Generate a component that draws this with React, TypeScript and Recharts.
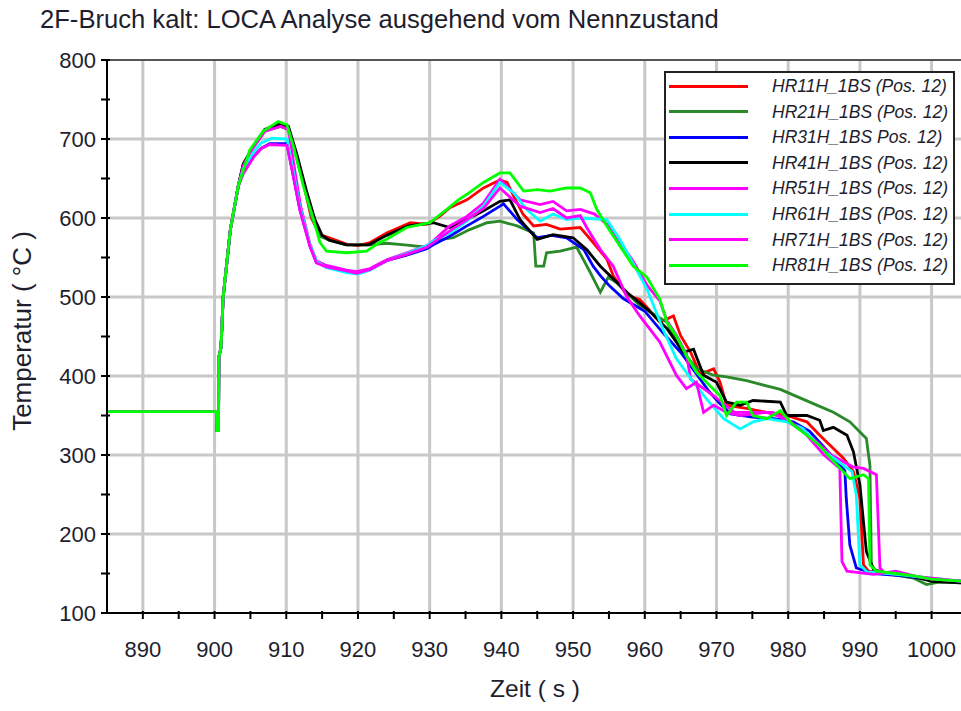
import React from "react";
import { LineChart, Line, XAxis, YAxis, ReferenceLine } from "recharts";

// Common start of every channel: steady state, then the break at ~900 s
const startup: [number, number][] = [
  [885, 355], [900.3, 355], [900.35, 331], [900.55, 331], [900.6, 424],
  [900.9, 436], [901.2, 500], [902.2, 585], [903.3, 640],
];

const hr11: [number, number][] = [
  [904, 668], [905.5, 692], [907, 710], [909.2, 718], [910.3, 714], [911.2, 685], [912.5, 640], [913.5, 600],
  [914.7, 579], [916, 575], [918.4, 567], [920, 565], [921.7, 569], [924, 581], [927.3, 594], [929.6, 592],
  [931.4, 602], [932.8, 613], [935.2, 623], [937.5, 638], [939.8, 648], [940.8, 645], [941.7, 628], [943, 605],
  [944.5, 590], [946.3, 592], [948.2, 586], [951, 588], [952.8, 569], [954.7, 548], [955.6, 527], [957.5, 502],
  [959.3, 497], [960.5, 485], [962.1, 468], [964, 476], [965, 451], [966.4, 430], [967.8, 401], [968.5, 405],
  [969.6, 409], [970.5, 392], [971.4, 363], [974.2, 359], [977, 354], [979.8, 350], [982.6, 342], [984.4, 325],
  [987.7, 296], [989.1, 279], [990, 245], [990.5, 161], [991.2, 153], [993, 150], [997, 147], [1000, 142], [1004.5, 139],
];

const hr21: [number, number][] = [
  [904, 668], [905.5, 692], [907, 710], [909.2, 716], [910.3, 712], [911.2, 685], [912.5, 640], [913.6, 600],
  [914.7, 577], [916, 572], [918.4, 566], [921.5, 566], [924, 568], [926.5, 566], [929.6, 563], [931, 572],
  [933.3, 575], [935.5, 585], [938, 594], [939.8, 596], [942.2, 590], [944.5, 581], [944.8, 539], [945.9, 539],
  [946.3, 556], [948.2, 558], [950.5, 563], [951.4, 548], [952.4, 531], [953.8, 506], [954.9, 525], [956.1, 518],
  [959.3, 489], [963.1, 468], [965, 434], [967.3, 409], [969.6, 401], [971.4, 399], [974.2, 394], [978.9, 383],
  [983.5, 365], [986.3, 354], [988.6, 342], [990.9, 321], [991.4, 287], [991.6, 161], [992.3, 153], [995, 148],
  [997.5, 144], [999.3, 136], [1001, 139], [1004.5, 138],
];

const hr31: [number, number][] = [
  [904, 658], [905.5, 678], [906.5, 688], [907.7, 694], [910.1, 694], [911, 653], [911.9, 611], [913.3, 565],
  [914.2, 544], [915.6, 539], [918.4, 533], [919.8, 530], [921.7, 535], [924, 546], [926.8, 553], [929.6, 561],
  [930.5, 566], [932.8, 577], [935.2, 590], [937.5, 602], [939.8, 615], [940.3, 618], [942.2, 598], [945, 575],
  [947, 578], [949.1, 575], [951.5, 560], [952.8, 539], [953.8, 527], [955, 515], [957, 498], [960, 482],
  [962.5, 455], [965, 430], [967, 405], [969, 380], [970.5, 365], [972, 352], [975, 348], [978, 346],
  [980.7, 342], [983, 330], [985, 310], [987.9, 280], [988.1, 245], [988.6, 186], [989.5, 157], [992, 150],
  [996, 147], [1000, 142], [1004.5, 140],
];

const hr41: [number, number][] = [
  [904, 668], [905.5, 692], [907, 712], [909.3, 720], [910.3, 716], [911.5, 680], [912.8, 635], [914, 598],
  [915, 578], [916, 572], [918.4, 566], [921.5, 566], [924, 578], [927, 590], [930.5, 594], [932.8, 588],
  [935.2, 598], [937.5, 609], [939.8, 621], [941.2, 623], [942.6, 598], [945, 573], [947.2, 579], [950, 575],
  [951.9, 560], [953.8, 539], [955.6, 523], [957.5, 506], [960.3, 485], [963.1, 460], [965.4, 430], [966.8, 434],
  [968.2, 401], [970, 392], [971.4, 367], [973.3, 363], [975.1, 369], [978.9, 367], [979.8, 350], [982.6, 350],
  [984.4, 344], [984.9, 331], [986.3, 335], [988.2, 325], [989.1, 304], [990, 262], [990.9, 178], [991.9, 155],
  [994, 150], [997.5, 146], [1000, 140], [1004.5, 138],
];

const hr51: [number, number][] = [
  [904, 666], [905.5, 690], [907, 710], [909.2, 716], [910.3, 712], [911.2, 660], [912, 615], [913.3, 567],
  [914.2, 546], [915.6, 540], [918.4, 534], [919.8, 532], [921.7, 536], [924, 547], [926.8, 556], [929.6, 565],
  [930.5, 571], [932.8, 590], [935.2, 602], [937.5, 619], [939.8, 649], [942.6, 623], [945.4, 617], [947.2, 621],
  [949.1, 609], [951, 611], [953, 605], [955, 590], [956.5, 570], [958.4, 545], [960.3, 515], [962.1, 495],
  [963.1, 470], [964.4, 452], [965.8, 428], [966.4, 396], [969.6, 375], [972.5, 354], [975.1, 354], [977.9, 354],
  [980.7, 338], [983, 325], [986, 300], [989, 285], [990.5, 283], [992.3, 275], [992.8, 157], [993.5, 150],
  [996, 149], [1000, 143], [1004.5, 140],
];

const hr61: [number, number][] = [
  [904, 662], [905.5, 684], [906.5, 695], [908, 701], [910.1, 700], [911, 658], [911.9, 614], [913.3, 566],
  [914.2, 545], [915.6, 537], [918.4, 531], [920, 529], [921.7, 534], [924, 546], [926.8, 555], [929.6, 565],
  [930.5, 571], [932.8, 581], [935.2, 596], [937.5, 615], [939.8, 645], [941.7, 632], [943.5, 611], [945.4, 596],
  [947.2, 605], [949.1, 598], [951, 600], [954.7, 598], [956.5, 573], [958.4, 542], [960.3, 510], [962.6, 458],
  [964.4, 422], [966.8, 392], [968.6, 371], [971, 346], [973.3, 333], [975.1, 342], [977, 346], [979.8, 342],
  [982, 334], [985, 305], [988.9, 279], [989.5, 249], [990, 161], [991, 152], [994, 150], [998, 146], [1004.5, 140],
];

const hr71: [number, number][] = [
  [904, 656], [905.5, 678], [906.5, 688], [907.7, 693], [910.1, 692], [911, 652], [911.9, 610], [913.3, 564],
  [914.2, 543], [915.6, 538], [918.4, 533], [919.8, 530], [921.7, 535], [924, 546], [926.8, 554], [929.6, 563],
  [931, 572], [933, 585], [935.2, 598], [937.5, 612], [939.8, 638], [942.6, 615], [945.4, 607], [947.2, 612],
  [949.1, 600], [951, 603], [951.9, 588], [953.8, 560], [955.6, 539], [957.5, 500], [959.3, 476], [962.1, 443],
  [964.4, 401], [965.8, 384], [967.2, 392], [968.2, 354], [969.6, 363], [971.4, 354], [973.3, 350], [977, 354],
  [979.8, 346], [982.6, 325], [985, 300], [987.2, 283], [987.5, 165], [988.2, 153], [991.9, 149], [995, 153],
  [998, 146], [1004.5, 140],
];

const hr81: [number, number][] = [
  [904.9, 686], [906.8, 710], [908.9, 722], [910.1, 718], [911, 691], [912.4, 640], [913.8, 598], [914.7, 569],
  [915.6, 558], [918.4, 556], [921.2, 558], [923, 569], [924, 573], [926.8, 588], [930, 594], [932.4, 611],
  [934, 623], [935.2, 630], [937.5, 645], [939.8, 657], [941.2, 657], [943.1, 634], [945, 636], [946.8, 634],
  [949.1, 638], [951, 638], [952.4, 632], [953.3, 611], [954.7, 590], [956.5, 565], [958.4, 539], [960.3, 525],
  [962.1, 497], [963.1, 468], [964.4, 451], [965.8, 426], [967.2, 405], [968.6, 392], [970.5, 375], [971.4, 350],
  [972.8, 367], [974.2, 367], [975.1, 350], [977, 346], [978.9, 356], [980.7, 338], [982.6, 325], [984.4, 312],
  [985.9, 296], [988.6, 270], [990.5, 275], [991.2, 270], [991.4, 161], [992.3, 153], [995, 150], [997.5, 147],
  [1000, 143], [1004.5, 140],
];

const seriesNames = [
  "HR11H_1BS (Pos. 12)",
  "HR21H_1BS (Pos. 12)",
  "HR31H_1BS Pos. 12)",
  "HR41H_1BS (Pos. 12)",
  "HR51H_1BS (Pos. 12)",
  "HR61H_1BS (Pos. 12)",
  "HR71H_1BS (Pos. 12)",
  "HR81H_1BS (Pos. 12)",
];
const seriesColors = ["#ff0000", "#2a8a2a", "#0000ff", "#000000", "#ff00ff", "#00ffff", "#ff00ff", "#00ff00"];
const seriesPoints = [hr11, hr21, hr31, hr41, hr51, hr61, hr71, hr81];

const xTicks = [890, 895, 900, 905, 910, 915, 920, 925, 930, 935, 940, 945, 950, 955, 960, 965, 970, 975, 980, 985, 990, 995, 1000];
const yTicks = [100, 150, 200, 250, 300, 350, 400, 450, 500, 550, 600, 650, 700, 750, 800];
const xGrid = [890, 900, 910, 920, 930, 940, 950, 960, 970, 980, 990, 1000];
const yGrid = [200, 300, 400, 500, 600, 700];

const title = "2F-Bruch kalt: LOCA Analyse ausgehend vom Nennzustand";
const xTitle = "Zeit ( s )";
const yTitle = "Temperatur ( °C )";

const FONT = "'Liberation Sans', Arial, sans-serif";
const TEXT = "#1e1e2e";
const W = 961;
const H = 711;
const PLOT_LEFT = 107;
const PLOT_TOP = 60;
const PLOT_BOTTOM = 613;

const series = seriesPoints.map((pts, i) => ({
  name: seriesNames[i],
  color: seriesColors[i],
  data: [...startup, ...pts].map(([t, v]) => ({ t, v })),
}));

const XTick = (props: any) => {
  const { x, payload } = props;
  const v = payload.value as number;
  return (
    <g>
      <line x1={x} x2={x} y1={PLOT_BOTTOM - 2} y2={PLOT_BOTTOM + 6} stroke="#000" strokeWidth={2} />
      {v % 10 === 0 && (
        <text x={x} y={657} textAnchor="middle" fontFamily={FONT} fontSize={22} fill={TEXT}>
          {v}
        </text>
      )}
    </g>
  );
};

const YTick = (props: any) => {
  const { y, payload } = props;
  const v = payload.value as number;
  return (
    <g>
      <line x1={PLOT_LEFT - 6} x2={PLOT_LEFT + 3} y1={y} y2={y} stroke="#000" strokeWidth={2} />
      {v % 100 === 0 && (
        <text x={96} y={y + 8} textAnchor="end" fontFamily={FONT} fontSize={22} fill={TEXT}>
          {v}
        </text>
      )}
    </g>
  );
};

export default function App() {
  return (
    <div style={{ position: "absolute", left: 0, top: 0, width: W, height: H, background: "#fff", overflow: "hidden" }}>
      <LineChart width={W} height={H} margin={{ top: PLOT_TOP, right: 0, bottom: 0, left: 0 }}>
        {xGrid.map((g) => (
          <ReferenceLine key={"gx" + g} x={g} stroke="#c8c8c8" strokeWidth={3} ifOverflow="hidden" />
        ))}
        {yGrid.map((g) => (
          <ReferenceLine key={"gy" + g} y={g} stroke="#c8c8c8" strokeWidth={3} ifOverflow="hidden" />
        ))}
        <ReferenceLine y={800} stroke="#555" strokeWidth={2} />
        <XAxis
          type="number"
          dataKey="t"
          domain={[885, 1004.1]}
          allowDataOverflow
          ticks={xTicks}
          interval={0}
          height={H - PLOT_BOTTOM}
          tick={XTick}
          tickLine={false}
          axisLine={{ stroke: "#000", strokeWidth: 2 }}
        />
        <YAxis
          type="number"
          domain={[100, 800]}
          ticks={yTicks}
          interval={0}
          width={PLOT_LEFT}
          tick={YTick}
          tickLine={false}
          axisLine={{ stroke: "#000", strokeWidth: 2 }}
        />
        {series.map((s) => (
          <Line
            key={s.name}
            data={s.data}
            dataKey="v"
            name={s.name}
            type="linear"
            stroke={s.color}
            strokeWidth={2.8}
            dot={false}
            activeDot={false}
            isAnimationActive={false}
          />
        ))}
      </LineChart>

      <div
        style={{
          position: "absolute",
          left: 40,
          top: 5,
          fontFamily: FONT,
          fontSize: 25.6,
          color: TEXT,
          whiteSpace: "nowrap",
        }}
      >
        {title}
      </div>
      <div
        style={{
          position: "absolute",
          left: 0,
          width: 1070,
          textAlign: "center",
          top: 675,
          fontFamily: FONT,
          fontSize: 24.5,
          color: TEXT,
          whiteSpace: "nowrap",
        }}
      >
        {xTitle}
      </div>
      <div
        style={{
          position: "absolute",
          left: 22,
          top: 331,
          transform: "translate(-50%, -50%) rotate(-90deg)",
          fontFamily: FONT,
          fontSize: 26,
          color: TEXT,
          whiteSpace: "nowrap",
        }}
      >
        {yTitle}
      </div>

      <div
        style={{
          position: "absolute",
          left: 664,
          top: 71,
          width: 287,
          height: 210,
          border: "2px solid #222",
          background: "#fff",
        }}
      >
        {series.map((s, i) => (
          <div
            key={s.name}
            style={{ position: "absolute", left: 0, top: i * 25.6, height: 26, width: 287 }}
          >
            <div
              style={{
                position: "absolute",
                left: 3,
                top: 11.5,
                width: 79,
                height: 3,
                background: s.color,
              }}
            />
            <div
              style={{
                position: "absolute",
                left: 106,
                top: 2,
                fontFamily: FONT,
                fontSize: 17.5,
                fontStyle: "italic",
                color: TEXT,
                whiteSpace: "nowrap",
                lineHeight: "22px",
              }}
            >
              {s.name}
            </div>
          </div>
        ))}
      </div>
    </div>
  );
}
